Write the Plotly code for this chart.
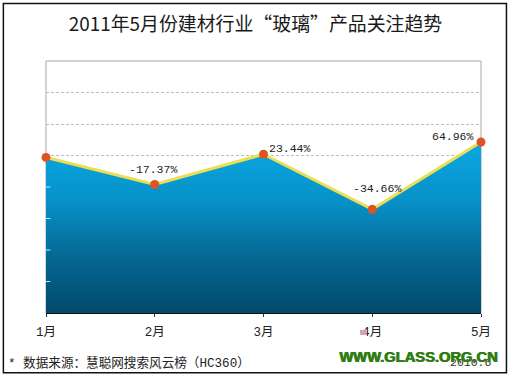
import plotly.graph_objects as go

months = ["1月", "2月", "3月", "4月", "5月"]
values = [494, 408, 504, 329, 543]
labels = ["", "-17.37%", "23.44%", "-34.66%", "64.96%"]
grid_vals = [500, 600, 700]
minor_ticks = [100, 200, 300, 400]

LAT = "Liberation Mono, Noto Sans CJK SC"
CJK = "Noto Sans CJK SC, Liberation Sans"
x_idx = list(range(len(months)))

fig = go.Figure()
fig.add_trace(go.Scatter(
    x=x_idx, y=values, mode="lines", fill="tozeroy", line=dict(width=0),
    fillgradient=dict(type="vertical", start=543, stop=0,
                      colorscale=[[0, "#0aa8e2"], [0.35, "#0791c8"], [0.7, "#05648f"], [1, "#024a6b"]]),
    hoverinfo="skip", showlegend=False))
fig.add_trace(go.Scatter(
    x=x_idx, y=values, mode="lines+markers",
    line=dict(color="#ecde50", width=3),
    marker=dict(size=9, color="#dc5420", line=dict(width=0)),
    cliponaxis=False, showlegend=False))

fig.update_layout(
    width=512, height=378, autosize=False,
    margin=dict(l=46, r=31, t=61, b=65),
    paper_bgcolor="white", plot_bgcolor="white",
    font=dict(family=CJK, color="#222222", size=11),
    title=dict(text="2011年5月份建材行业“玻璃”产品关注趋势", x=0.4816, xanchor="center",
               xref="paper", y=0.936, yanchor="middle",
               font=dict(size=18.9, color="#1a1a1a", family=CJK)),
    xaxis=dict(range=[0, 4], tickmode="array", tickvals=x_idx, ticktext=months,
               ticks="outside", ticklen=3, tickcolor="#333", showgrid=False, zeroline=False,
               showline=True, linecolor="#111", linewidth=1, ticklabelstandoff=4,
               tickfont=dict(size=12.5, family=LAT, color="#222")),
    yaxis=dict(range=[0, 800], tickmode="array", tickvals=grid_vals, showticklabels=False,
               ticks="", showgrid=True, gridcolor="#bdbdbd", griddash="3px,2px", gridwidth=1,
               zeroline=False, showline=False),
    shapes=[
        dict(type="rect", xref="paper", yref="paper", x0=0, x1=1, y0=0, y1=1,
             line=dict(color="#a8a8a8", width=1), layer="below"),
        dict(type="rect", xref="paper", yref="paper", x0=-0.098, x1=1.0585, y0=-0.2375, y1=1.2285,
             line=dict(color="#111", width=1.5), layer="above"),
        dict(type="rect", xref="paper", yref="paper", x0=0.722, x1=0.737, y0=-0.087, y1=-0.067,
             line=dict(width=0), fillcolor="#d8a0b0", layer="above"),
    ] + [dict(type="line", xref="paper", yref="y", x0=0, x1=0.01, y0=v, y1=v,
              line=dict(color="#bfe6f5", width=1)) for v in minor_ticks],
)

offs = [None, (-2, 15), (26, 6), (5, 21), (-28, 5)]
anns = []
for i, lab in enumerate(labels):
    if lab:
        anns.append(dict(x=i, y=values[i], text=lab, showarrow=False, xshift=offs[i][0], yshift=offs[i][1],
                         font=dict(size=11.5, family=LAT, color="#222")))
anns += [
    dict(xref="paper", yref="paper", x=-0.092, y=-0.198, xanchor="left", yanchor="middle", showarrow=False,
         text="* 数据来源：慧聪网搜索风云榜（HC360）", font=dict(size=12.6, family=LAT, color="#222")),
    dict(xref="paper", yref="paper", x=1.029, y=-0.198, xanchor="right", yanchor="middle", showarrow=False,
         text="2010.6", font=dict(size=11.5, family=LAT, color="#333")),
    dict(xref="paper", yref="paper", x=1.042, y=-0.173, xanchor="right", yanchor="middle", showarrow=False,
         text="<b>WWW.GLASS.ORG.CN</b>",
         font=dict(size=14.7, family="Liberation Sans", color="#2f7d12", shadow="1px 0 0 #2f7d12")),
]
fig.update_layout(annotations=anns)
fig.write_html("out.html", post_script="document.body.style.margin='0';",
               config=dict(displayModeBar=False))
